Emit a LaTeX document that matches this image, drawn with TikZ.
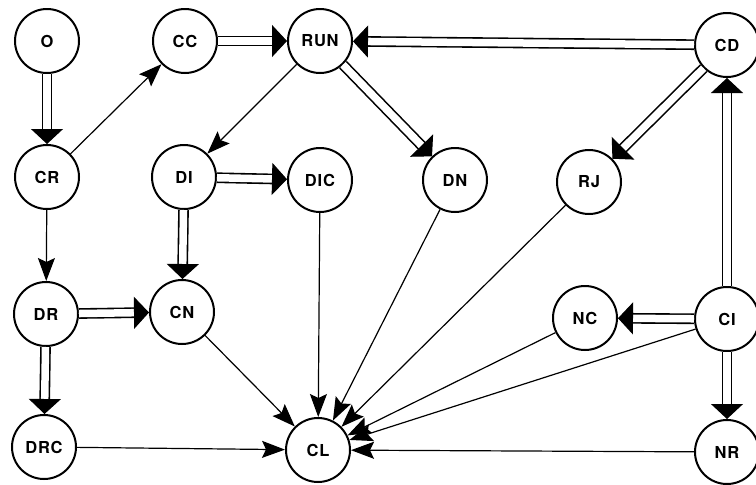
\documentclass[tikz,border=0pt]{standalone}
\usepackage{fontspec}
\setmainfont{TeX Gyre Heros}
\newfontfamily\lblfont{TeX Gyre Heros}[LetterSpace=5.0]
\usetikzlibrary{arrows.meta}
\tikzset{
  st/.style={circle, draw, line width=2pt, minimum size=64pt, inner sep=0pt,
    font=\lblfont\bfseries\fontsize{16.5}{16.5}\selectfont},
  sgl/.style={line width=1.2pt, -{Stealth[length=23pt,width=17pt,inset=4pt]}},
  dblline/.style={line width=1.6pt, double=white, double distance=7.5pt, shorten >=14pt},
  dblhead/.style={white, line width=1pt, -{Triangle[length=15pt,width=32pt,color=black]}},
}
\newcommand\dblarr[2]{\draw[dblline] (#1) -- (#2); \draw[dblhead] (#1) -- (#2);}
\begin{document}
\begin{tikzpicture}[x=1pt,y=-1pt]
\useasboundingbox (0,0) rectangle (756,485);
\node[st] (O) at (47,41) {O};
\node[st] (CC) at (185,41) {CC};
\node[st] (RUN) at (320,41) {RUN};
\node[st] (CD) at (727,45) {CD};
\node[st] (CR) at (47,177) {CR};
\node[st] (DI) at (184,177) {DI};
\node[st] (DIC) at (320,180) {DIC};
\node[st] (DN) at (455,180) {DN};
\node[st] (RJ) at (589,182) {RJ};
\node[st] (DR) at (46,314) {DR};
\node[st] (CN) at (182,312) {CN};
\node[st] (NC) at (585,318) {NC};
\node[st] (CI) at (727,319) {CI};
\node[st] (DRC) at (44,447) {DRC};
\node[st] (CL) at (318,450) {CL};
\node[st] (NR) at (727,452) {NR};
% double arrows
\dblarr{O}{CR}
\dblarr{CC}{RUN}
\dblarr{CD}{RUN}
\dblarr{RUN}{DN}
\dblarr{CD}{RJ}
\dblarr{DI}{DIC}
\dblarr{DI}{CN}
\dblarr{DR}{CN}
\dblarr{DR}{DRC}
\dblarr{CI}{NC}
\dblarr{CI}{NR}
\dblarr{CI}{CD}
% single arrows
\draw[sgl] (CR) -- (CC);
\draw[sgl] (CR) -- (DR);
\draw[sgl] (RUN) -- (DI);
\draw[sgl] (CN) -- (CL);
\draw[sgl] (DIC) -- (CL);
\draw[sgl] (DN) -- (CL);
\draw[sgl] (RJ) -- (CL);
\draw[sgl] (NC) -- (CL);
\draw[sgl] (CI) -- (CL);
\draw[sgl] (NR) -- (CL);
\draw[sgl] (DRC) -- (CL);
\end{tikzpicture}
\end{document}
